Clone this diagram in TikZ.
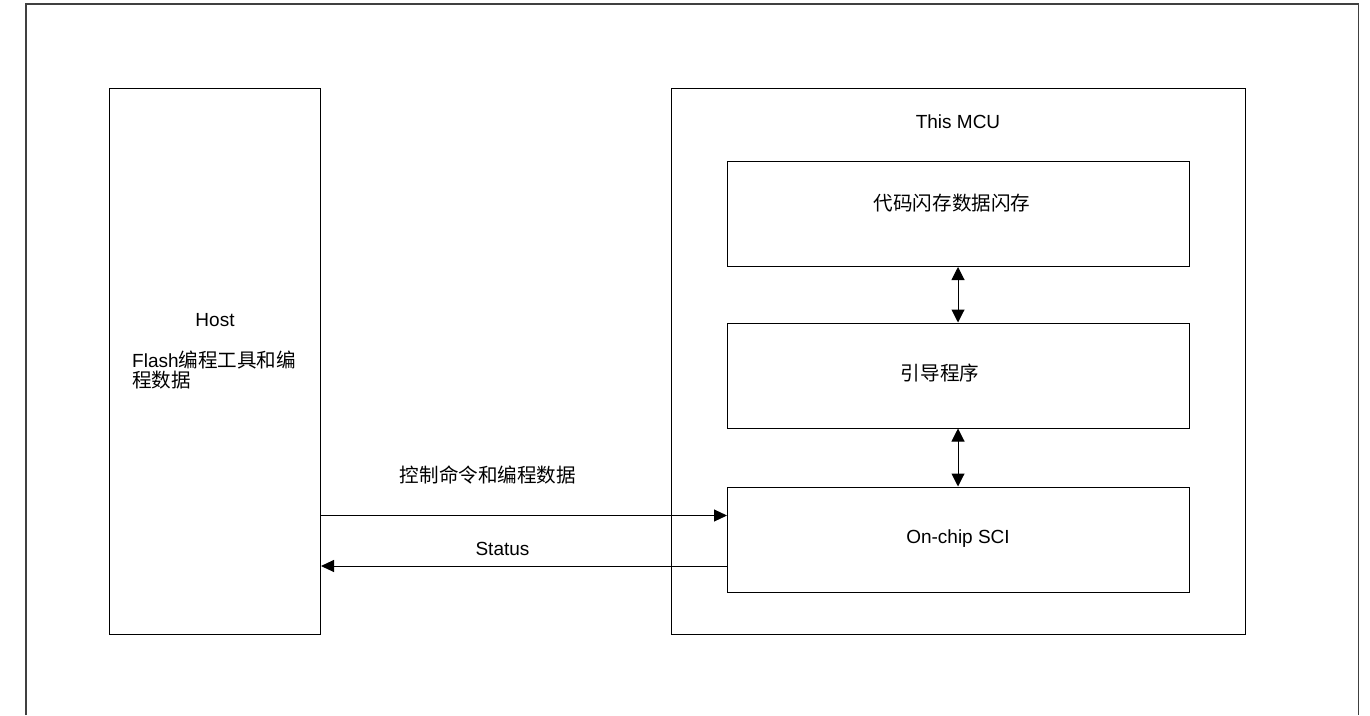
\documentclass[tikz,border=0pt]{standalone}
\usepackage{fontspec}
\setmainfont{Liberation Sans}
\newfontfamily\cjk[Scale=1.03]{Noto Sans CJK SC}
\usetikzlibrary{arrows.meta}
\begin{document}
\begin{tikzpicture}[x=1pt,y=-1pt,
  blk/.style={draw=black,line width=1pt,rectangle,inner sep=0pt},
  lbl/.style={inner sep=0pt,font=\fontsize{19}{20}\selectfont},
  arr/.style={line width=1pt,-{Triangle[length=13pt,width=12pt]}},
  darr/.style={line width=1pt,{Triangle[length=13pt,width=13pt]}-{Triangle[length=13pt,width=13pt]}}]
\useasboundingbox (0,0) rectangle (1370,715);
% outer frame (open at bottom)
\draw[line width=1.6pt,color=black!75] (26,715) -- (26,4) -- (1358.5,4) -- (1358.5,715);
% boxes
\node[blk,minimum width=211.5pt,minimum height=546pt] (host) at (214.75,361) {};
\node[blk,minimum width=574.5pt,minimum height=546pt] (mcu) at (958.25,361) {};
\node[blk,minimum width=461.5pt,minimum height=105.5pt] (flash) at (958.25,213.75) {};
\node[blk,minimum width=461.5pt,minimum height=105pt] (boot) at (958.25,375.5) {};
\node[blk,minimum width=461.5pt,minimum height=105pt] (sci) at (958.25,539.5) {};
% labels
\node[lbl] (hostt) at (215,320) {Host};
\node[lbl,anchor=west,align=left] (hostd) at (132,370.5) {Flash{\cjk 编程工具和编}\\{\cjk 程数据}};
\node[lbl] (mcut) at (958,122) {This MCU};
\node[lbl] (flasht) at (952,203) {\cjk 代码闪存数据闪存};
\node[lbl] (boott) at (940,373.5) {\cjk 引导程序};
\node[lbl] (scit) at (958,538.5) {On-chip SCI};
\node[lbl] (ctrlt) at (488,475) {\cjk 控制命令和编程数据};
\node[lbl] (statt) at (502.5,549) {Status};
% connectors
\draw[darr] (flash.south -| 958,0) -- (boot.north -| 958,0);
\draw[darr] (boot.south -| 958,0) -- (sci.north -| 958,0);
\draw[arr] (host.east |- 0,515.5) -- (sci.west |- 0,515.5);
\draw[arr] (sci.west |- 0,566) -- (host.east |- 0,566);
\end{tikzpicture}
\end{document}
